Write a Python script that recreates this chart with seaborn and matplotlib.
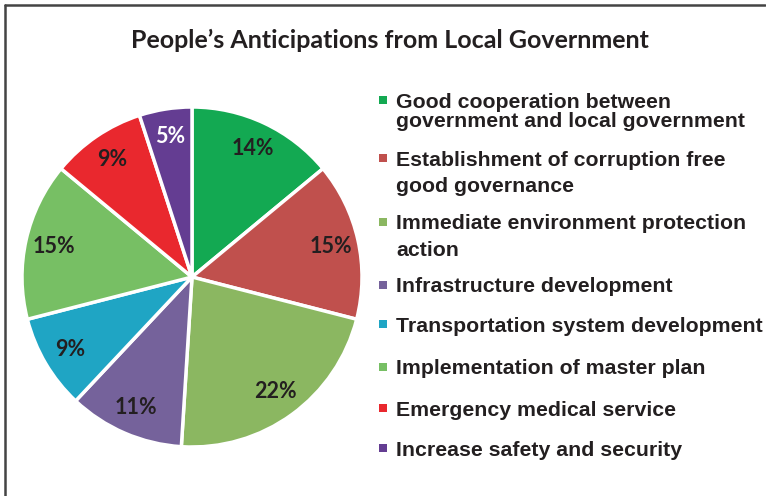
import matplotlib
matplotlib.use("Agg")
import matplotlib.pyplot as plt
import seaborn as sns
from matplotlib.patches import Rectangle
from matplotlib.lines import Line2D

# Survey answers, in clockwise order from 12 o'clock
categories = [
    "Good cooperation between\ngovernment and local government",
    "Establishment of corruption free\ngood governance",
    "Immediate environment protection\naction",
    "Infrastructure development",
    "Transportation system development",
    "Implementation of master plan",
    "Emergency medical service",
    "Increase safety and security",
]
shares = [14, 15, 22, 11, 9, 15, 9, 5]
slice_colors = ["#13A952", "#C0504D", "#8BB761", "#75629B",
                "#1FA5C4", "#77BF64", "#E9282E", "#643D92"]
title = "People\u2019s Anticipations from Local Government"

W, H = 766, 496
sns.set_theme(style="white")
palette = sns.color_palette(slice_colors)
plt.rcParams["font.family"] = ["Liberation Sans", "DejaVu Sans"]

fig = plt.figure(figsize=(W / 100, H / 100), dpi=100)
fig.patch.set_facecolor("white")

# Pie axes: centre (192, 277) px, radius 170 px
R = 170
cx, cy = 192, 277
half = R * 1.05
ax = fig.add_axes([(cx - half) / W, (H - cy - half) / H, 2 * half / W, 2 * half / H])
wedges, texts, autotexts = ax.pie(
    shares,
    colors=palette,
    startangle=90,
    counterclock=False,
    autopct=lambda p: f"{p:.0f}%",
    pctdistance=0.835,
    wedgeprops=dict(edgecolor="white", linewidth=2.5),
    textprops=dict(fontsize=15.5, fontweight="bold", color="#231F20",
                   family=["Lato", "DejaVu Sans"]),
)
autotexts[-1].set_color("white")
ax.set_xlim(-1.05, 1.05)
ax.set_ylim(-1.05, 1.05)
ax.set_aspect("equal")
ax.axis("off")

# Title
fig.text(390 / W, 1 - 40 / H, title, ha="center", va="center",
         fontsize=18, fontweight="bold", color="#231F20",
         family=["Lato", "DejaVu Sans"])

# Legend, drawn entry by entry (marker y, line spacing in px)
entry_y = [100, 158, 222, 285, 324, 367, 408, 448]
line_gap = [19, 26, 26, 0, 0, 0, 0, 0]
for lab, col, y, gap in zip(categories, palette, entry_y, line_gap):
    fig.add_artist(Rectangle((379 / W, 1 - (y + 4) / H), 8 / W, 8 / H,
                             transform=fig.transFigure, facecolor=col,
                             edgecolor="none"))
    for k, line in enumerate(lab.split("\n")):
        fig.text(396 / W, 1 - (y + k * gap) / H, line, ha="left",
                 va="center_baseline", fontsize=15.3, fontweight="bold",
                 color="#231F20")

# Frame lines on top and left
fig.add_artist(Line2D([5 / W, 765 / W], [1 - 5 / H, 1 - 5 / H],
                      transform=fig.transFigure, color="#444444", lw=1.8))
fig.add_artist(Line2D([5 / W, 5 / W], [0, 1 - 5 / H],
                      transform=fig.transFigure, color="#444444", lw=1.8))

fig.savefig("out.png", dpi=100, facecolor="white")
